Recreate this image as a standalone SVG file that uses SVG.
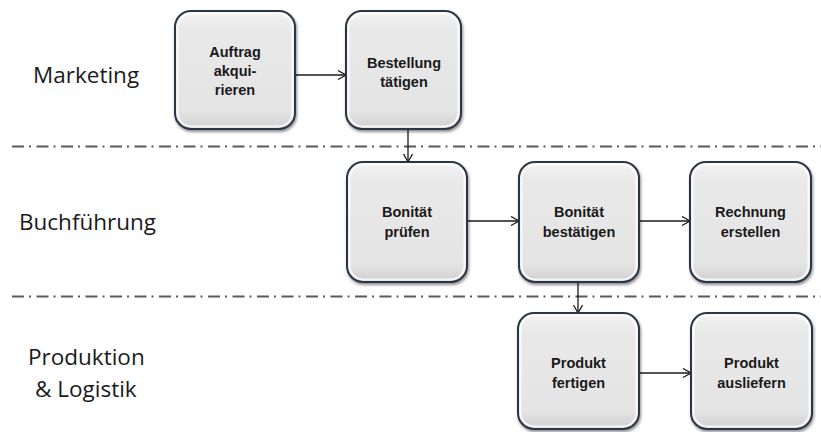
<svg xmlns="http://www.w3.org/2000/svg" width="821" height="432" viewBox="0 0 821 432">
<defs>
<style>
.lane{font-family:"Open Sans","Liberation Sans",sans-serif;font-size:22.5px;fill:#1a1a1a}
.lbl{font-family:"Liberation Sans",Arial,sans-serif;font-size:14.5px;font-weight:bold;fill:#1a1a1a;text-anchor:middle}
.box{fill:url(#g);stroke:#2b3644;stroke-width:2;filter:url(#sh)}
.hl{fill:none;stroke:#ffffff;stroke-width:2;opacity:0.8}
.sep{stroke:#5a5a5a;stroke-width:2;stroke-dasharray:12 5 2 5.5;fill:none}
.con{stroke:#1a1a1a;stroke-width:1.3;fill:none;marker-end:url(#ah)}
</style>
<linearGradient id="g" x1="0" y1="0" x2="0" y2="1">
<stop offset="0" stop-color="#f4f4f4"/>
<stop offset="0.15" stop-color="#e9e9e9"/>
<stop offset="0.85" stop-color="#e4e4e4"/>
<stop offset="1" stop-color="#cfcfcf"/>
</linearGradient>
<filter id="sh" x="-10%" y="-10%" width="125%" height="125%">
<feGaussianBlur in="SourceAlpha" stdDeviation="1.5"/>
<feOffset dx="1" dy="2" result="b"/>
<feComponentTransfer><feFuncA type="linear" slope="0.45"/></feComponentTransfer>
<feMerge><feMergeNode/><feMergeNode in="SourceGraphic"/></feMerge>
</filter>
<marker id="ah" markerUnits="userSpaceOnUse" markerWidth="12" markerHeight="12" refX="9" refY="5" orient="auto">
<path d="M1,0.5 L9,5 L1,9.5" fill="none" stroke="#1a1a1a" stroke-width="1.3"/>
</marker>
</defs>
<rect width="821" height="432" fill="#ffffff"/>

<g id="lanes">
<line class="sep" x1="12" y1="146.5" x2="821" y2="146.5"/>
<line class="sep" x1="12" y1="296.5" x2="821" y2="296.5"/>
<text class="lane" x="33" y="83">Marketing</text>
<text class="lane" x="19" y="230">Buchführung</text>
<text class="lane" x="28" y="365">Produktion</text>
<text class="lane" x="35" y="397">&amp; Logistik</text>
</g>

<g id="connectors">
<line class="con" x1="296" y1="75" x2="346" y2="75"/>
<line class="con" x1="408" y1="129" x2="408" y2="162"/>
<line class="con" x1="467" y1="221" x2="519" y2="221"/>
<line class="con" x1="639" y1="221" x2="690" y2="221"/>
<line class="con" x1="578" y1="283" x2="578" y2="313"/>
<line class="con" x1="639" y1="373" x2="691" y2="373"/>
</g>

<g id="n1">
<rect class="box" x="175" y="11" width="120" height="118" rx="16"/>
<rect class="hl" x="177.5" y="13.5" width="115" height="113" rx="14"/>
<text class="lbl" x="235" y="57">Auftrag</text>
<text class="lbl" x="235" y="76">akqui-</text>
<text class="lbl" x="235" y="95">rieren</text>
</g>
<g id="n2">
<rect class="box" x="346" y="11" width="115" height="118" rx="16"/>
<rect class="hl" x="348.5" y="13.5" width="110" height="113" rx="14"/>
<text class="lbl" x="404" y="68">Bestellung</text>
<text class="lbl" x="404" y="87">tätigen</text>
</g>
<g id="n3">
<rect class="box" x="347" y="162" width="120" height="120" rx="16"/>
<rect class="hl" x="349.5" y="164.5" width="115" height="115" rx="14"/>
<text class="lbl" x="407" y="217">Bonität</text>
<text class="lbl" x="407" y="237">prüfen</text>
</g>
<g id="n4">
<rect class="box" x="519" y="162" width="120" height="120" rx="16"/>
<rect class="hl" x="521.5" y="164.5" width="115" height="115" rx="14"/>
<text class="lbl" x="579" y="217">Bonität</text>
<text class="lbl" x="579" y="237">bestätigen</text>
</g>
<g id="n5">
<rect class="box" x="690" y="162" width="121" height="120" rx="16"/>
<rect class="hl" x="692.5" y="164.5" width="116" height="115" rx="14"/>
<text class="lbl" x="750.5" y="217">Rechnung</text>
<text class="lbl" x="750.5" y="237">erstellen</text>
</g>
<g id="n6">
<rect class="box" x="518" y="313" width="121" height="116" rx="16"/>
<rect class="hl" x="520.5" y="315.5" width="116" height="111" rx="14"/>
<text class="lbl" x="578.5" y="368">Produkt</text>
<text class="lbl" x="578.5" y="388">fertigen</text>
</g>
<g id="n7">
<rect class="box" x="691" y="313" width="121" height="116" rx="16"/>
<rect class="hl" x="693.5" y="315.5" width="116" height="111" rx="14"/>
<text class="lbl" x="751.5" y="368">Produkt</text>
<text class="lbl" x="751.5" y="388">ausliefern</text>
</g>
</svg>
